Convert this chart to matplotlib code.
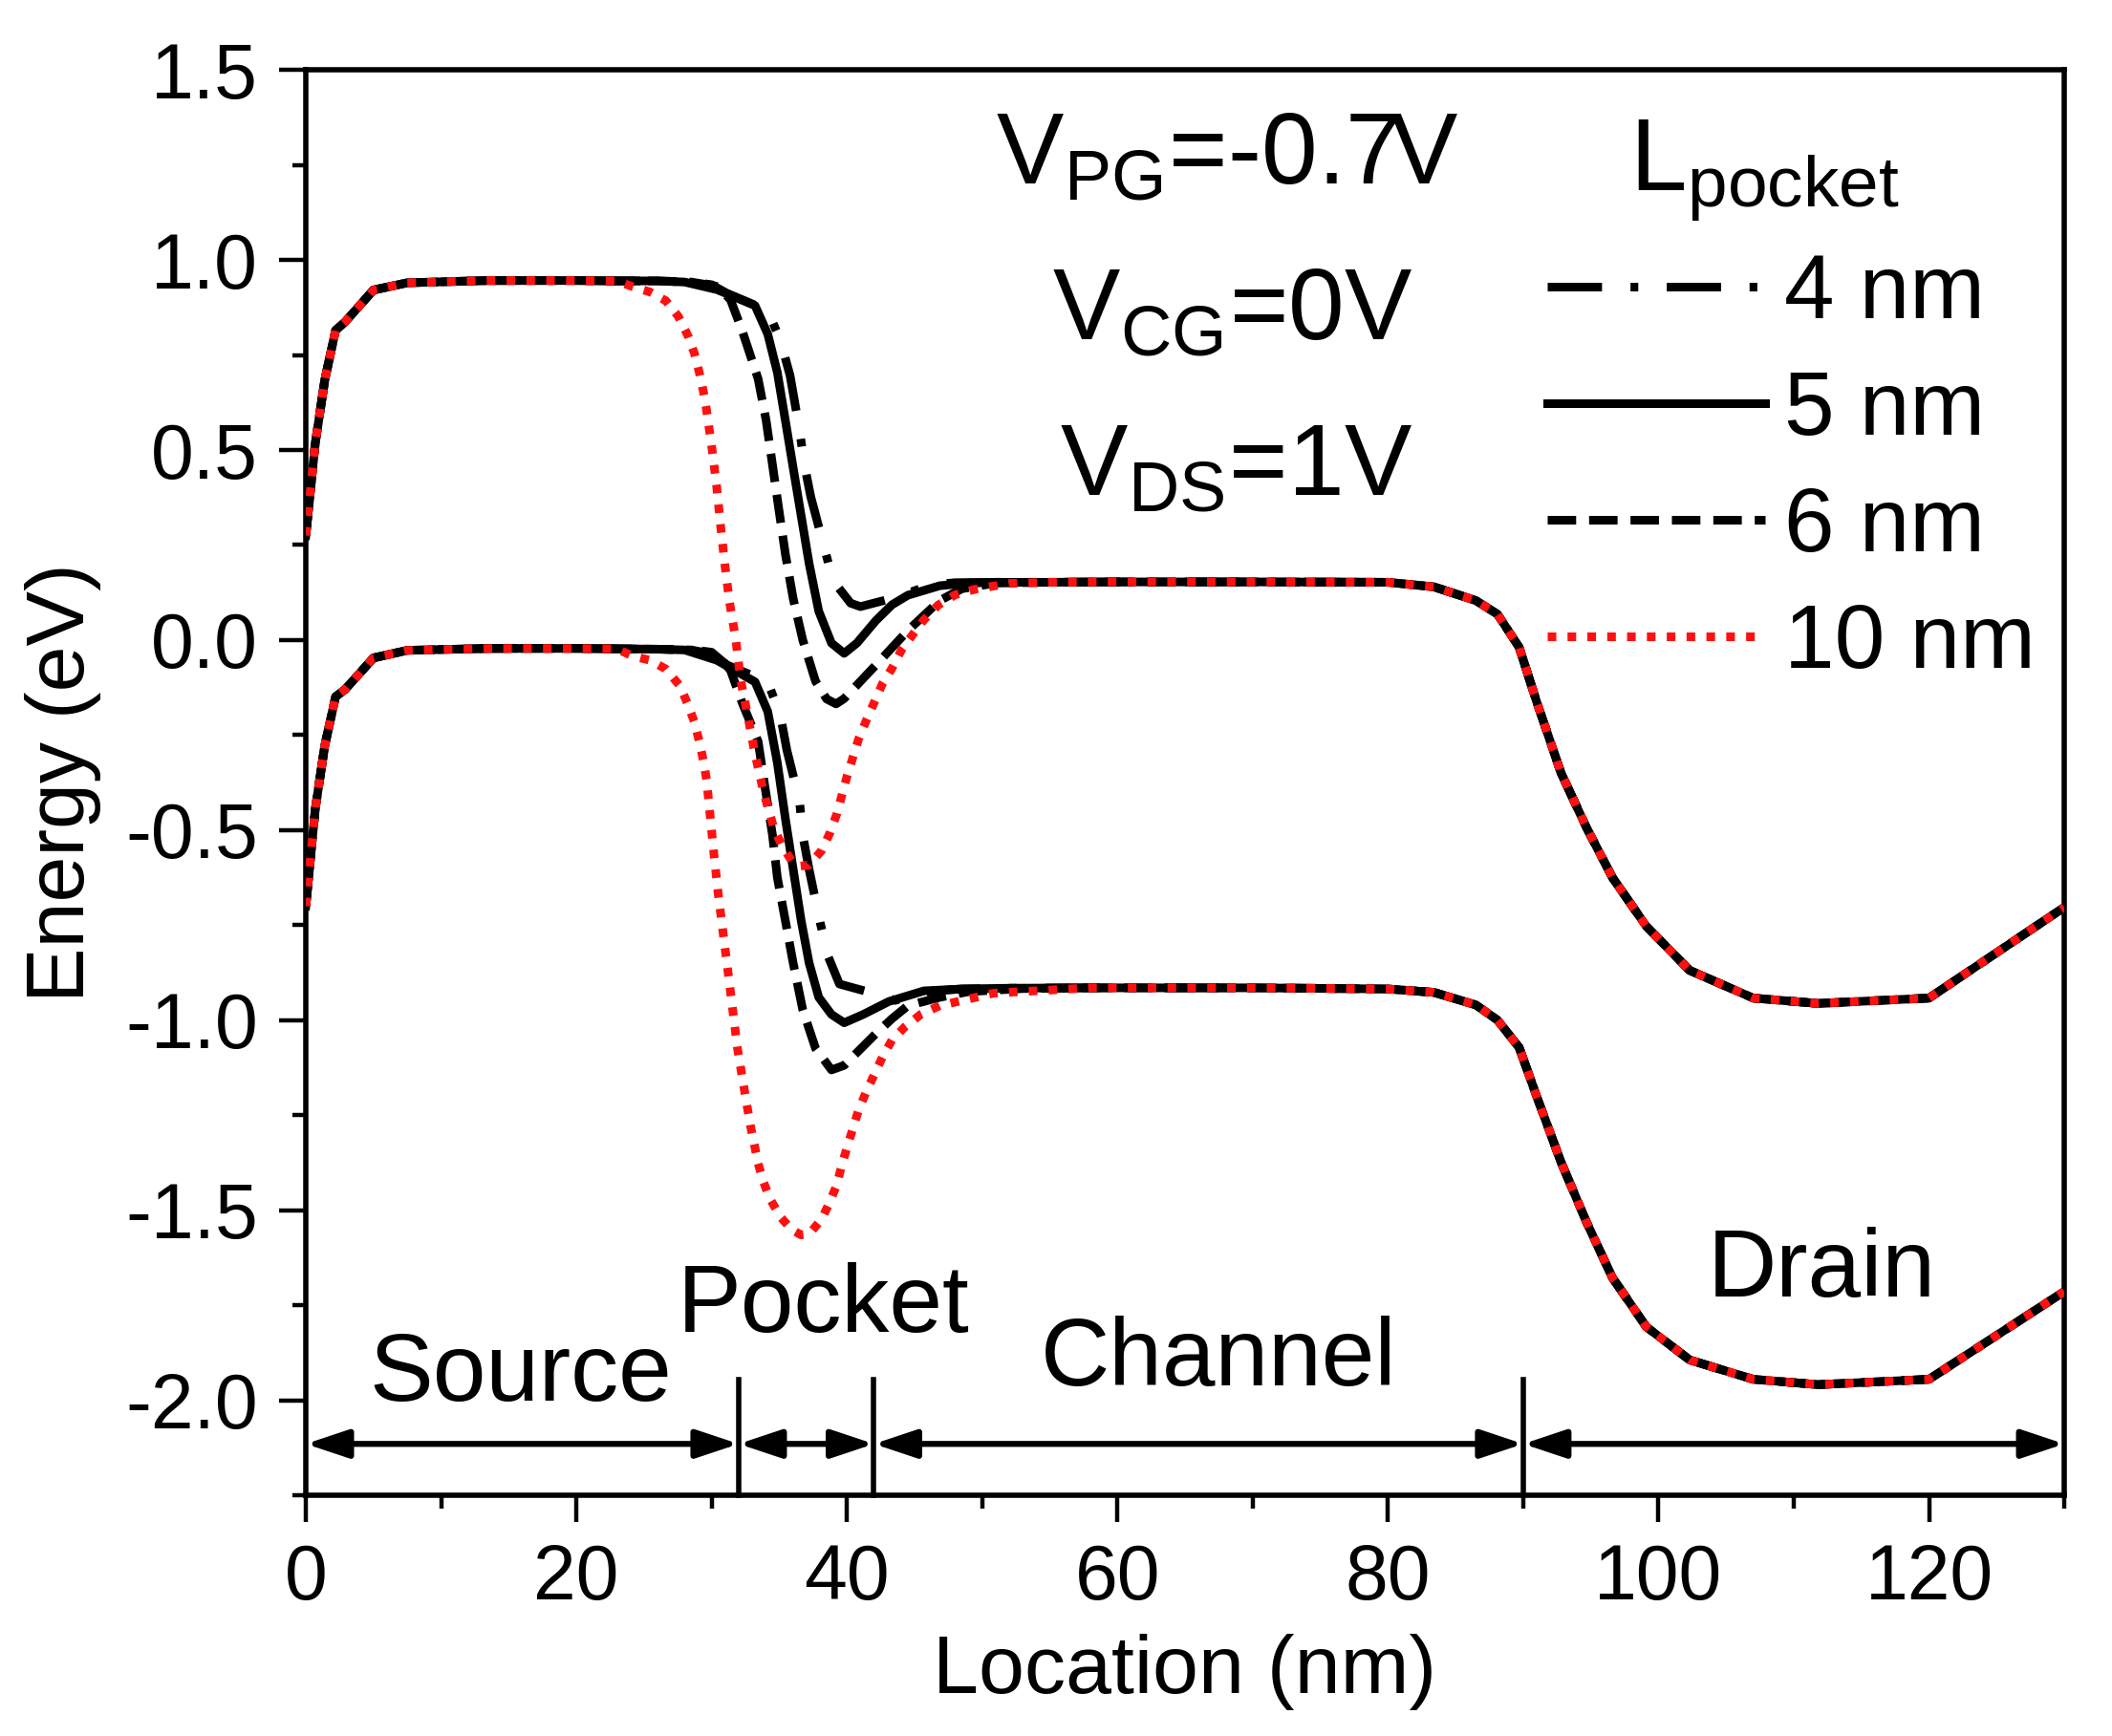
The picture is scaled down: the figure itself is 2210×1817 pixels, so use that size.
import numpy as np
import matplotlib
matplotlib.use("Agg")
import matplotlib.pyplot as plt
from matplotlib.patches import ArrowStyle

plt.rcParams['font.family'] = ['Liberation Sans', 'DejaVu Sans']
plt.rcParams['mathtext.fontset'] = 'custom'
plt.rcParams['mathtext.rm'] = 'Liberation Sans'
plt.rcParams['axes.unicode_minus'] = False

# shared parts (all pocket lengths coincide here)
x_src = [0, 0.7, 1.4, 2.2, 2.9, 5.0, 7.5, 13.4, 20.0, 23.0]
cb_src = [0.275, 0.518, 0.684, 0.815, 0.837, 0.921, 0.940, 0.946, 0.946, 0.945]
vb_src = [-0.700, -0.444, -0.278, -0.149, -0.130, -0.047, -0.027, -0.022, -0.022, -0.023]

x_cb_drn = [55, 60, 70, 80, 83.4, 86.5, 88.1, 89.7, 91.0, 92.8, 94.7, 96.6, 99.1, 102.3, 107.0, 111.8, 120.0, 130.0]
cb_drn = [0.152, 0.153, 0.153, 0.152, 0.140, 0.104, 0.068, -0.019, -0.163, -0.350, -0.495, -0.625,
          -0.753, -0.869, -0.942, -0.956, -0.942, -0.703]
x_vb_drn = [58, 60, 70, 80, 83.4, 86.5, 88.1, 89.7, 91.0, 92.8, 94.7, 96.6, 99.1, 102.3, 107.0, 111.8, 120.0, 130.0]
vb_drn = [-0.915, -0.915, -0.915, -0.918, -0.927, -0.960, -1.000, -1.072, -1.201, -1.374, -1.533, -1.678,
          -1.807, -1.894, -1.945, -1.959, -1.945, -1.714]

# pocket region, per pocket length
x_cb_4 = [26.0, 28.5, 30.0, 31.1, 32.5, 34.15, 35.09, 35.80, 36.50, 36.86, 37.33, 38.39, 38.98, 40.28,
          41.0, 43.6, 46.2, 48.0, 51.0]
cb_4 = [0.945, 0.942, 0.935, 0.913, 0.892, 0.867, 0.788, 0.696, 0.553, 0.461, 0.377, 0.235, 0.156, 0.097,
        0.088, 0.112, 0.145, 0.151, 0.152]
x_vb_4 = [26.0, 28.5, 30.0, 31.1, 34.15, 35.09, 35.56, 36.50, 36.74, 37.21, 38.03, 38.62, 39.45, 41.5,
          43.57, 46.16, 48.5, 52.0]
vb_4 = [-0.024, -0.025, -0.032, -0.065, -0.110, -0.199, -0.289, -0.424, -0.514, -0.604, -0.744, -0.833,
        -0.905, -0.925, -0.948, -0.924, -0.918, -0.916]

x_cb_5 = [26.0, 28.0, 30.4, 33.21, 34.15, 34.86, 35.45, 36.03, 36.62, 37.21, 37.92, 38.86, 39.80, 40.74,
          42.14, 43.34, 44.51, 46.87, 49.0, 51.0]
cb_5 = [0.945, 0.942, 0.922, 0.880, 0.805, 0.704, 0.578, 0.453, 0.327, 0.201, 0.076, -0.008, -0.035,
        -0.008, 0.051, 0.093, 0.118, 0.143, 0.150, 0.152]
x_vb_5 = [26.0, 28.0, 30.38, 33.21, 34.15, 34.86, 35.45, 36.03, 36.62, 37.21, 37.92, 38.86, 39.80, 41.21,
          43.10, 45.69, 48.5, 52.0]
vb_5 = [-0.024, -0.026, -0.053, -0.110, -0.188, -0.323, -0.469, -0.603, -0.738, -0.850, -0.940, -0.985,
        -1.007, -0.985, -0.951, -0.923, -0.918, -0.916]

x_cb_6 = [26.0, 28.5, 30.5, 31.4, 32.27, 33.44, 34.03, 34.50, 34.97, 35.45, 36.03, 36.74, 37.68, 38.5,
          39.2, 39.80, 42.16, 44.51, 46.87, 48.5, 51.0]
cb_6 = [0.945, 0.942, 0.930, 0.895, 0.813, 0.687, 0.578, 0.461, 0.344, 0.227, 0.109, 0.000, -0.108,
        -0.155, -0.168, -0.154, -0.065, 0.025, 0.104, 0.135, 0.150]
x_vb_6 = [26.0, 28.5, 30.5, 31.4, 32.27, 33.44, 33.91, 34.50, 34.86, 35.45, 36.03, 36.74, 37.68, 38.86,
          39.80, 42.16, 43.34, 44.51, 46.87, 49.0, 53.0]
vb_6 = [-0.024, -0.026, -0.040, -0.080, -0.166, -0.267, -0.379, -0.513, -0.625, -0.738, -0.850, -0.973,
        -1.074, -1.131, -1.119, -1.035, -0.996, -0.962, -0.940, -0.925, -0.917]

x_cb_10 = [24.14, 25.43, 26.61, 27.55, 28.26, 28.73, 29.09, 29.39, 29.63, 30.03, 30.38, 30.66, 30.97,
           31.32, 31.56, 31.80, 32.14, 32.67, 33.21, 33.85, 34.62, 35.21, 35.92, 36.5, 37.21, 38.15,
           38.74, 39.26, 40.03, 40.86, 41.45, 42.63, 43.34, 44.05, 44.86, 45.69, 46.75, 48.0, 49.5, 52.0]
cb_10 = [0.930, 0.916, 0.893, 0.851, 0.800, 0.754, 0.704, 0.654, 0.604, 0.503, 0.402, 0.302, 0.201,
         0.101, 0.050, -0.003, -0.104, -0.199, -0.300, -0.401, -0.497, -0.541, -0.581, -0.595, -0.592,
         -0.553, -0.508, -0.457, -0.356, -0.261, -0.210, -0.115, -0.074, -0.025, 0.014, 0.053, 0.092,
         0.119, 0.134, 0.149]
x_vb_10 = [24.14, 25.43, 26.61, 27.67, 28.26, 28.73, 29.09, 29.39, 29.63, 29.91, 30.19, 30.50, 30.85,
           31.21, 31.56, 31.91, 32.38, 32.86, 33.44, 33.80, 34.27, 35.09, 35.92, 36.6, 37.21, 38.15,
           38.74, 39.26, 39.61, 40.03, 40.86, 41.45, 42.04, 42.63, 43.34, 44.28, 45.46, 46.87, 50.87]
vb_10 = [-0.042, -0.053, -0.076, -0.121, -0.171, -0.216, -0.267, -0.317, -0.368, -0.469, -0.570, -0.671,
         -0.771, -0.872, -0.973, -1.074, -1.175, -1.276, -1.377, -1.422, -1.467, -1.518, -1.551, -1.565,
         -1.563, -1.523, -1.478, -1.433, -1.383, -1.333, -1.237, -1.187, -1.142, -1.097, -1.052, -1.018,
         -0.985, -0.962, -0.929]

pockets = ['4 nm', '5 nm', '6 nm', '10 nm']
x_cb_pocket = [x_cb_4, x_cb_5, x_cb_6, x_cb_10]
cb_pocket = [cb_4, cb_5, cb_6, cb_10]
x_vb_pocket = [x_vb_4, x_vb_5, x_vb_6, x_vb_10]
vb_pocket = [vb_4, vb_5, vb_6, vb_10]

styles = [
    dict(color='black', dashes=(6.3, 3.3, 0.9, 3.3)),
    dict(color='black', linestyle='-'),
    dict(color='black', dashes=(3.3, 1.5)),
    dict(color='#ff1010', dashes=(1.0, 1.3)),
]

# region boundaries (nm) and labels
bounds = [0, 32, 42, 90, 130]
regions = ['Source', 'Pocket', 'Channel', 'Drain']
region_xy = [(15.9, -2.0), (38.3, -1.82), (67.5, -1.96), (112.1, -1.728)]

fig = plt.figure(figsize=(22.1, 18.17), dpi=100)
ax = fig.add_axes([0.1448, 0.1387, 0.8326, 0.821])

handles = []
for i, name in enumerate(pockets):
    xc = np.concatenate([x_src, x_cb_pocket[i], x_cb_drn])
    yc = np.concatenate([cb_src, cb_pocket[i], cb_drn])
    xv = np.concatenate([x_src, x_vb_pocket[i], x_vb_drn])
    yv = np.concatenate([vb_src, vb_pocket[i], vb_drn])
    ln, = ax.plot(xc, yc, lw=6.5, label=name, zorder=3 + i, **styles[i])
    ax.plot(xv, yv, lw=6.5, zorder=3 + i, **styles[i])
    handles.append(ln)

ax.set_xlim(0, 130)
ax.set_ylim(-2.25, 1.5)
ax.set_xticks(np.arange(0, 121, 20))
ax.set_xticks(np.arange(10, 131, 20), minor=True)
ax.set_yticks(np.arange(-2.0, 1.51, 0.5))
ax.set_yticks(np.arange(-2.25, 1.5, 0.5), minor=True)
ax.set_yticklabels(['%.1f' % v for v in np.arange(-2.0, 1.51, 0.5)])

for s in ax.spines.values():
    s.set_linewidth(4)
ax.tick_params(which='major', direction='out', length=20, width=3.2, labelsize=58)
ax.tick_params(axis='y', which='major', pad=16)
ax.tick_params(axis='x', which='major', pad=16)
ax.tick_params(which='minor', direction='out', length=10, width=3.2)

ax.set_xlabel('Location (nm)', fontsize=62, labelpad=14)
ax.set_ylabel('Energy (eV)', fontsize=62, labelpad=18)

# region markers
arrow_y = -2.115
for b in bounds[1:-1]:
    ax.plot([b, b], [-2.25, -1.947], color='black', lw=4, zorder=2, clip_on=False)
head = ArrowStyle('<|-|>', head_length=27, head_width=9)
for a, b in zip(bounds[:-1], bounds[1:]):
    ax.annotate('', xy=(b, arrow_y), xytext=(a, arrow_y),
                arrowprops=dict(arrowstyle=head, color='black', lw=4.5,
                                shrinkA=0, shrinkB=0, mutation_scale=1))
for name, (tx, ty) in zip(regions, region_xy):
    ax.text(tx, ty, name, fontsize=72, ha='center', va='baseline')

# bias conditions
ax.text(68.1, 1.202, r'V$_\mathregular{PG}$=-0.7V', fontsize=76, ha='center', va='baseline')
ax.text(68.5, 0.792, r'V$_\mathregular{CG}$=0V', fontsize=76, ha='center', va='baseline')
ax.text(68.8, 0.382, r'V$_\mathregular{DS}$=1V', fontsize=76, ha='center', va='baseline')
ax.text(107.8, 1.182, r'L$_\mathregular{pocket}$', fontsize=77, ha='center', va='baseline')

ax.legend(handles=handles, loc='upper left', bbox_to_anchor=(0.706, 0.872),
          frameon=False, fontsize=68, handlelength=2.41, handletextpad=0.22,
          labelspacing=0.35, borderpad=0, borderaxespad=0)

fig.savefig('out.png', dpi=100)
